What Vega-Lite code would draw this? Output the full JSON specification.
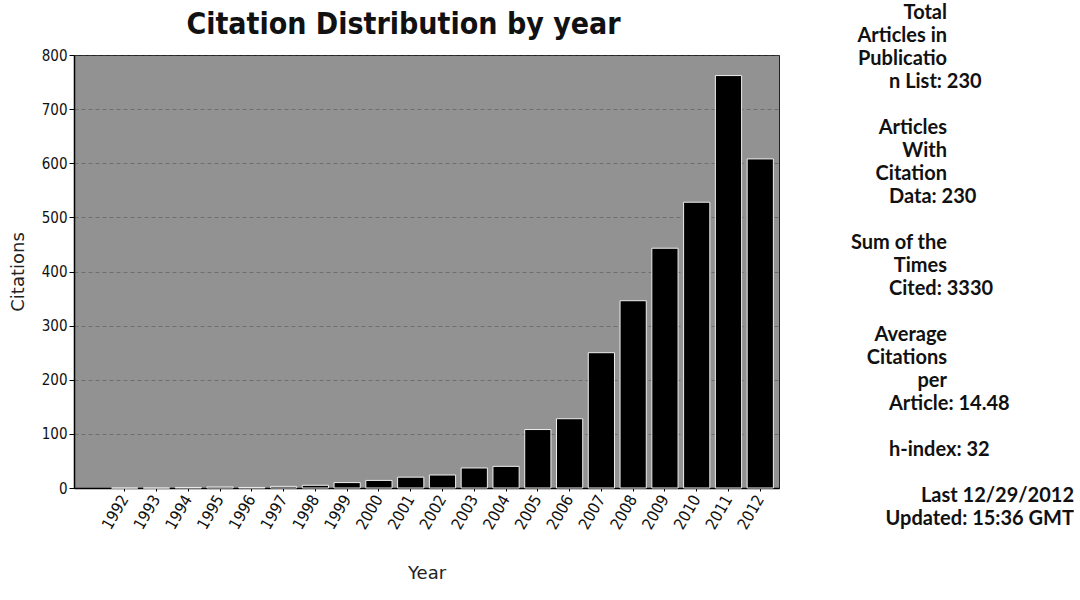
{
  "$schema": "https://vega.github.io/schema/vega-lite/v6.json",
  "background": "white",
  "padding": {"left": 8, "top": 3, "right": 0, "bottom": 0},
  "spacing": 20,
  "config": {
    "font": "DejaVu Sans",
    "view": {"stroke": "#222", "strokeWidth": 1},
    "axis": {
      "labelFont": "DejaVu Sans Condensed, DejaVu Sans",
      "labelFontSize": 15,
      "labelColor": "#111",
      "titleFont": "DejaVu Sans",
      "titleFontSize": 18,
      "titleFontWeight": "normal",
      "titleColor": "#222",
      "domainColor": "#000",
      "domainWidth": 1.5,
      "tickColor": "#000"
    }
  },
  "hconcat": [
    {
      "width": 705,
      "height": 433,
      "title": {
        "text": "Citation Distribution by year",
        "font": "DejaVu Sans Condensed, DejaVu Sans",
        "fontSize": 30,
        "fontWeight": "bold",
        "color": "#111",
        "anchor": "middle",
        "dx": -23,
        "offset": 8
      },
      "view": {"fill": "#929292", "stroke": "#222"},
      "data": {
        "values": [
          {"year": "1992", "citations": 0},
          {"year": "1993", "citations": 0},
          {"year": "1994", "citations": 1},
          {"year": "1995", "citations": 2},
          {"year": "1996", "citations": 1},
          {"year": "1997", "citations": 3},
          {"year": "1998", "citations": 5},
          {"year": "1999", "citations": 10},
          {"year": "2000", "citations": 14},
          {"year": "2001", "citations": 20},
          {"year": "2002", "citations": 24},
          {"year": "2003", "citations": 37},
          {"year": "2004", "citations": 40},
          {"year": "2005", "citations": 108},
          {"year": "2006", "citations": 128},
          {"year": "2007", "citations": 250},
          {"year": "2008", "citations": 346},
          {"year": "2009", "citations": 443},
          {"year": "2010", "citations": 528},
          {"year": "2011", "citations": 762},
          {"year": "2012", "citations": 608}
        ]
      },
      "mark": {"type": "bar", "color": "#000", "stroke": "#eeeeee", "strokeWidth": 1},
      "encoding": {
        "x": {
          "field": "year",
          "type": "ordinal",
          "title": "Year",
          "scale": {"paddingInner": 0.175, "paddingOuter": 0.68, "align": 0.87},
          "axis": {"labelAngle": -60, "labelFontSize": 16, "labelPadding": 5, "tickSize": 3, "titlePadding": 33, "grid": false}
        },
        "y": {
          "field": "citations",
          "type": "quantitative",
          "title": "Citations",
          "scale": {"domain": [0, 800], "nice": false},
          "axis": {
            "values": [0, 100, 200, 300, 400, 500, 600, 700, 800],
            "labelPadding": 2,
            "tickSize": 5,
            "titlePadding": 14,
            "grid": true,
            "gridColor": "#444",
            "gridDash": [4, 3],
            "gridOpacity": 0.45
          }
        }
      }
    },
    {
      "width": 270,
      "height": 506,
      "view": {"stroke": null},
      "data": {
        "values": [
          {"line": 1, "text": "Total", "part": "label"},
          {"line": 2, "text": "Articles in", "part": "label"},
          {"line": 3, "text": "Publicatio", "part": "label"},
          {"line": 4, "text": "n List: 230", "part": "value"},
          {"line": 6, "text": "Articles", "part": "label"},
          {"line": 7, "text": "With", "part": "label"},
          {"line": 8, "text": "Citation", "part": "label"},
          {"line": 9, "text": "Data: 230", "part": "value"},
          {"line": 11, "text": "Sum of the", "part": "label"},
          {"line": 12, "text": "Times", "part": "label"},
          {"line": 13, "text": "Cited: 3330", "part": "value"},
          {"line": 15, "text": "Average", "part": "label"},
          {"line": 16, "text": "Citations", "part": "label"},
          {"line": 17, "text": "per", "part": "label"},
          {"line": 18, "text": "Article: 14.48", "part": "value"},
          {"line": 20, "text": "h-index: 32", "part": "value"},
          {"line": 22, "text": "Last 12/29/2012", "part": "footer"},
          {"line": 23, "text": "Updated: 15:36 GMT", "part": "footer"}
        ]
      },
      "encoding": {
        "y": {
          "field": "line",
          "type": "ordinal",
          "axis": null,
          "scale": {"type": "point", "padding": 0, "domain": [1,2,3,4,5,6,7,8,9,10,11,12,13,14,15,16,17,18,19,20,21,22,23]}
        },
        "text": {"field": "text"}
      },
      "layer": [
        {
          "transform": [{"filter": "datum.part === 'label'"}],
          "mark": {"type": "text", "align": "right", "baseline": "middle", "dx": 12, "dy": -42, "font": "Lato", "fontWeight": "bold", "fontSize": 20, "color": "#111"}
        },
        {
          "transform": [{"filter": "datum.part === 'value'"}],
          "mark": {"type": "text", "align": "left", "baseline": "middle", "dx": -46, "dy": -42, "font": "Lato", "fontWeight": "bold", "fontSize": 20, "color": "#111"}
        },
        {
          "transform": [{"filter": "datum.part === 'footer'"}],
          "mark": {"type": "text", "align": "right", "baseline": "middle", "dx": 139, "dy": -42, "font": "Lato", "fontWeight": "bold", "fontSize": 20, "color": "#111"}
        }
      ]
    }
  ]
}
